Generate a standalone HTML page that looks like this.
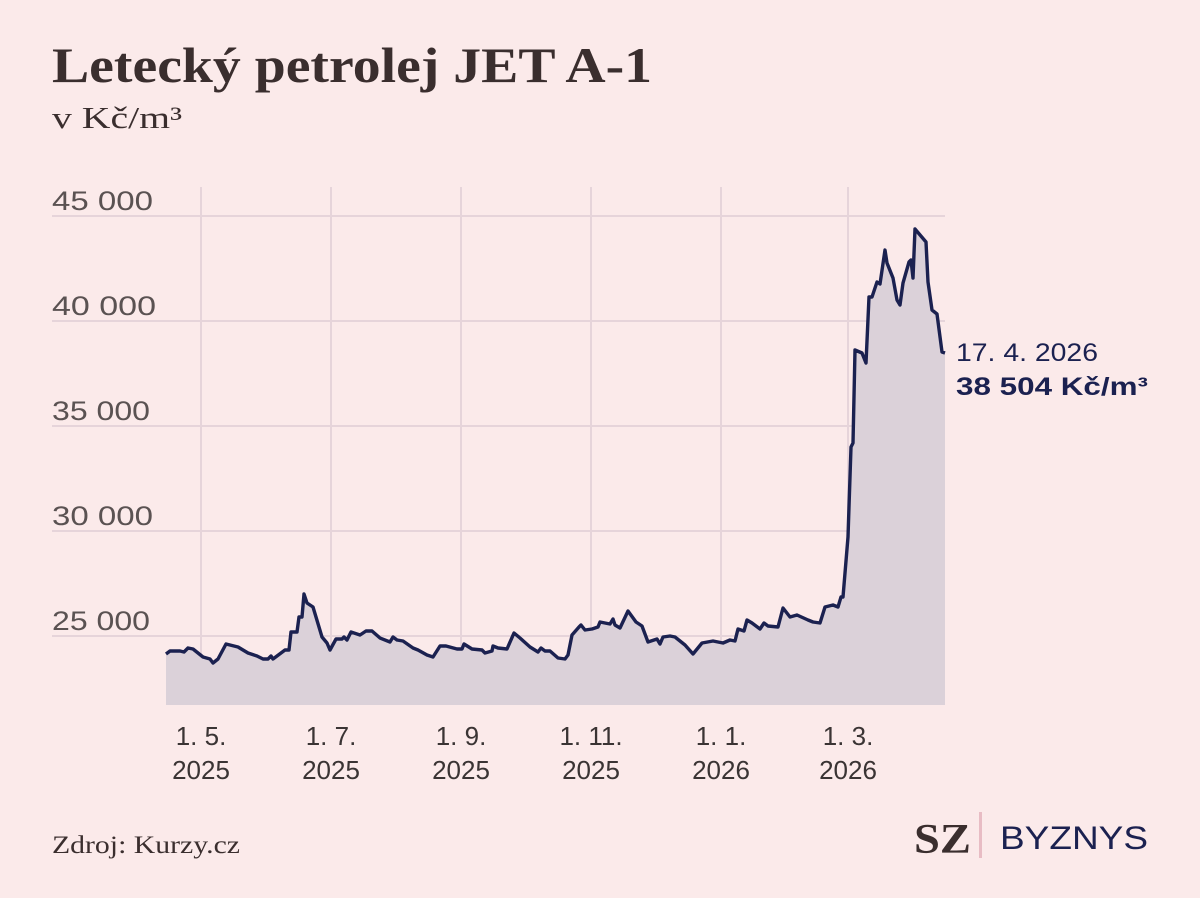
<!DOCTYPE html>
<html><head><meta charset="utf-8"><style>
html,body{margin:0;padding:0;background:#fbeaea;}
svg{display:block}
</style></head><body>
<svg width="1200" height="898" viewBox="0 0 1200 898" xmlns="http://www.w3.org/2000/svg">
<rect width="1200" height="898" fill="#fbeaea"/>
<text x="52" y="82" font-family="Liberation Serif, serif" font-weight="bold" font-size="50" fill="#3a2e2e" textLength="600" lengthAdjust="spacingAndGlyphs">Letecký petrolej JET A-1</text>
<text x="52" y="128" font-family="Liberation Serif, serif" font-size="31" fill="#3a2e2e" textLength="130" lengthAdjust="spacingAndGlyphs">v Kč/m³</text>
<g stroke="#e6d4da" stroke-width="2">
<line x1="52" y1="216" x2="945" y2="216"/>
<line x1="52" y1="321" x2="945" y2="321"/>
<line x1="52" y1="426" x2="945" y2="426"/>
<line x1="52" y1="531" x2="945" y2="531"/>
<line x1="52" y1="636" x2="945" y2="636"/>
<line x1="201" y1="187" x2="201" y2="705"/>
<line x1="331" y1="187" x2="331" y2="705"/>
<line x1="461" y1="187" x2="461" y2="705"/>
<line x1="591" y1="187" x2="591" y2="705"/>
<line x1="721" y1="187" x2="721" y2="705"/>
<line x1="848" y1="187" x2="848" y2="705"/>
</g>
<g font-family="Liberation Sans, sans-serif" font-size="27" fill="#5a5252">
<text x="52" y="210" textLength="101" lengthAdjust="spacingAndGlyphs">45 000</text>
<text x="52" y="315" textLength="104" lengthAdjust="spacingAndGlyphs">40 000</text>
<text x="52" y="420" textLength="98" lengthAdjust="spacingAndGlyphs">35 000</text>
<text x="52" y="525" textLength="101" lengthAdjust="spacingAndGlyphs">30 000</text>
<text x="52" y="630" textLength="98" lengthAdjust="spacingAndGlyphs">25 000</text>
</g>
<g font-family="Liberation Sans, sans-serif" font-size="26" fill="#3a3434" text-anchor="middle">
<text x="201" y="745">1. 5.</text><text x="201" y="779">2025</text>
<text x="331" y="745">1. 7.</text><text x="331" y="779">2025</text>
<text x="461" y="745">1. 9.</text><text x="461" y="779">2025</text>
<text x="591" y="745">1. 11.</text><text x="591" y="779">2025</text>
<text x="721" y="745">1. 1.</text><text x="721" y="779">2026</text>
<text x="848" y="745">1. 3.</text><text x="848" y="779">2026</text>
</g>
<path fill="#dbd1d9" d="M166,705 L166,654 L170,651 L180,651 L184,652 L188,648 L193,649 L203,657 L210,659 L213,663 L218,659 L226,644 L238,647 L248,653 L257,656 L263,659 L268,659 L271,656 L273,659 L285,650 L289,650 L291,632 L297,632 L299,617 L302,617 L304,594 L307,603 L313,607 L319,627 L322,637 L327,643 L330,650 L336,639 L342,639 L344,637 L347,640 L351,632 L360,635 L366,631 L372,631 L380,638 L390,642 L393,637 L397,640 L403,641 L413,648 L418,650 L427,655 L433,657 L440,646 L446,646 L457,649 L462,649 L464,644 L472,649 L482,650 L485,653 L492,651 L493,646 L498,648 L507,649 L514,633 L520,638 L530,647 L538,652 L541,648 L545,651 L550,651 L558,658 L565,659 L568,655 L572,635 L579,627 L581,625 L585,630 L592,629 L598,627 L600,622 L610,624 L613,619 L615,625 L620,628 L628,611 L636,622 L642,626 L648,642 L657,639 L660,644 L663,637 L670,636 L675,637 L685,645 L693,654 L702,643 L713,641 L723,643 L730,640 L735,641 L738,629 L744,631 L747,620 L752,623 L760,629 L764,623 L768,626 L778,627 L783,608 L790,617 L797,615 L808,620 L813,622 L820,623 L825,607 L833,605 L838,607 L841,597 L843,597 L848,537 L851,447 L853,443 L855,350 L862,353 L866,363 L869,297 L872,297 L877,282 L880,284 L885,250 L887,263 L893,278 L897,300 L900,305 L903,283 L909,262 L911,260 L913,278 L915,229 L926,242 L928,282 L932,310 L937,314 L942,352 L945,353 L945,705 Z"/>
<path fill="none" stroke="#1b2150" stroke-width="3.4" stroke-linejoin="round" d="M166,654 L170,651 L180,651 L184,652 L188,648 L193,649 L203,657 L210,659 L213,663 L218,659 L226,644 L238,647 L248,653 L257,656 L263,659 L268,659 L271,656 L273,659 L285,650 L289,650 L291,632 L297,632 L299,617 L302,617 L304,594 L307,603 L313,607 L319,627 L322,637 L327,643 L330,650 L336,639 L342,639 L344,637 L347,640 L351,632 L360,635 L366,631 L372,631 L380,638 L390,642 L393,637 L397,640 L403,641 L413,648 L418,650 L427,655 L433,657 L440,646 L446,646 L457,649 L462,649 L464,644 L472,649 L482,650 L485,653 L492,651 L493,646 L498,648 L507,649 L514,633 L520,638 L530,647 L538,652 L541,648 L545,651 L550,651 L558,658 L565,659 L568,655 L572,635 L579,627 L581,625 L585,630 L592,629 L598,627 L600,622 L610,624 L613,619 L615,625 L620,628 L628,611 L636,622 L642,626 L648,642 L657,639 L660,644 L663,637 L670,636 L675,637 L685,645 L693,654 L702,643 L713,641 L723,643 L730,640 L735,641 L738,629 L744,631 L747,620 L752,623 L760,629 L764,623 L768,626 L778,627 L783,608 L790,617 L797,615 L808,620 L813,622 L820,623 L825,607 L833,605 L838,607 L841,597 L843,597 L848,537 L851,447 L853,443 L855,350 L862,353 L866,363 L869,297 L872,297 L877,282 L880,284 L885,250 L887,263 L893,278 L897,300 L900,305 L903,283 L909,262 L911,260 L913,278 L915,229 L926,242 L928,282 L932,310 L937,314 L942,352 L945,353"/>
<text x="956" y="361" font-family="Liberation Sans, sans-serif" font-size="25" fill="#1b2150" textLength="142" lengthAdjust="spacingAndGlyphs">17. 4. 2026</text>
<text x="956" y="395" font-family="Liberation Sans, sans-serif" font-size="25" font-weight="bold" fill="#1b2150" textLength="192" lengthAdjust="spacingAndGlyphs">38 504 Kč/m³</text>
<text x="52" y="853" font-family="Liberation Serif, serif" font-size="25" fill="#3a2e2e" textLength="188" lengthAdjust="spacingAndGlyphs">Zdroj: Kurzy.cz</text>
<text x="914" y="853" font-family="Liberation Serif, serif" font-size="42" font-weight="bold" fill="#3a2e2e" textLength="57" lengthAdjust="spacingAndGlyphs">SZ</text>
<rect x="979" y="812" width="3" height="46" fill="#e8bcc4"/>
<text x="1000" y="849" font-family="Liberation Sans, sans-serif" font-size="32" fill="#1b2150" textLength="148" lengthAdjust="spacingAndGlyphs">BYZNYS</text>
</svg>
</body></html>
